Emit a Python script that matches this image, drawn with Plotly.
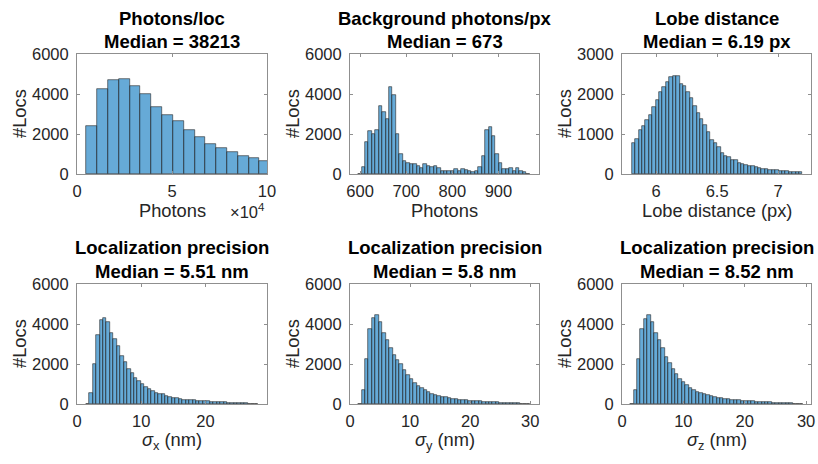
import numpy as np
import plotly.graph_objects as go

# ---- histogram data (bin edges + counts per bin) ----
photon_edges = np.linspace(4940, 101670, 18)
photon_counts = [2400, 4233, 4683, 4750, 4400, 4017, 3367, 2967, 2650, 2217,
                 1850, 1483, 1317, 1100, 917, 783, 650]

bg_edges = np.linspace(595.7, 968.0, 51)
bg_counts = [20, 350, 1600, 2133, 2000, 2200, 3383, 3100, 2733, 4333,
             3950, 2000, 983, 667, 567, 483, 483, 400, 300, 483,
             417, 350, 400, 300, 133, 133, 133, 167, 233, 167,
             250, 217, 167, 83, 167, 333, 900, 2200, 2333, 1900,
             1000, 533, 267, 267, 300, 167, 300, 167, 83, 17]

lobe_edges = np.linspace(5.8, 7.2, 51)
lobe_counts = [783, 885, 1100, 1200, 1340, 1480, 1670, 1850, 2060, 2180,
               2300, 2430, 2460, 2440, 2240, 2210, 2060, 1900, 1690, 1520,
               1370, 1230, 1060, 860, 780, 680, 530, 460, 420, 350,
               340, 280, 260, 220, 210, 195, 175, 150, 130, 125,
               110, 95, 88, 80, 72, 65, 60, 56, 52, 50]

sx_edges = np.linspace(1.36, 28.2, 51)
sx_counts = [15, 550, 2017, 3433, 4183, 4300, 4117, 3567, 3233, 2883,
             2417, 2100, 1767, 1533, 1283, 1150, 983, 833, 733, 650,
             567, 483, 483, 417, 367, 317, 317, 267, 217, 217,
             200, 183, 167, 150, 150, 133, 117, 100, 100, 83,
             83, 67, 67, 50, 50, 33, 33, 25, 17, 17]

sy_edges = np.linspace(1.34, 30.0, 51)
sy_counts = [15, 683, 2267, 3733, 4283, 4433, 4100, 3550, 3183, 2800,
             2433, 2217, 2000, 1717, 1467, 1233, 1067, 917, 800, 683,
             617, 517, 467, 417, 367, 333, 300, 267, 233, 217,
             200, 183, 167, 150, 133, 133, 117, 100, 100, 83,
             83, 67, 67, 50, 50, 33, 33, 25, 17, 17]

sz_edges = np.linspace(1.31, 29.5, 51)
sz_counts = [15, 683, 2267, 3733, 4267, 4433, 4100, 3567, 3183, 2783,
             2367, 2033, 1767, 1517, 1267, 1100, 933, 800, 700, 617,
             550, 500, 450, 400, 350, 317, 283, 267, 233, 217,
             200, 183, 167, 150, 133, 133, 117, 100, 100, 83,
             83, 67, 67, 50, 50, 33, 33, 25, 17, 17]

titles = [("Photons/loc", "Median = 38213"),
          ("Background photons/px", "Median = 673"),
          ("Lobe distance", "Median = 6.19 px"),
          ("Localization precision", "Median = 5.51 nm"),
          ("Localization precision", "Median = 5.8 nm"),
          ("Localization precision", "Median = 8.52 nm")]
xlabels = ["Photons", "Photons", "Lobe distance (px)",
           "<i>σ</i><sub>x</sub> (nm)", "<i>σ</i><sub>y</sub> (nm)",
           "<i>σ</i><sub>z</sub> (nm)"]
ylabel = "#Locs"

xranges = [[0, 100000], [578, 988], [5.72, 7.27], [0, 29.6], [0, 31.45], [0, 30.8]]
yranges = [[0, 6000], [0, 6000], [0, 3000], [0, 6000], [0, 6000], [0, 6000]]
xtickvals = [[0, 50000, 100000], [600, 700, 800, 900], [6, 6.5, 7],
             [0, 10, 20], [0, 10, 20, 30], [0, 10, 20, 30]]
xticktext = [["0", "5", "10"], ["600", "700", "800", "900"], ["6", "6.5", "7"],
             ["0", "10", "20"], ["0", "10", "20", "30"], ["0", "10", "20", "30"]]
ytickvals = [[0, 2000, 4000, 6000]] * 2 + [[0, 1000, 2000, 3000]] + [[0, 2000, 4000, 6000]] * 3

hists = [(photon_edges, photon_counts), (bg_edges, bg_counts), (lobe_edges, lobe_counts),
         (sx_edges, sx_counts), (sy_edges, sy_counts), (sz_edges, sz_counts)]

# ---- layout geometry (pixels) ----
W, H = 818, 464
cols_px = [(77, 267), (350, 539), (622, 811)]
rows_px = [(54, 174), (284, 404)]


def px_x(p):
    return p / W


def px_y(p):
    return 1 - p / H


FONT = "Liberation Sans, Arial, Helvetica, sans-serif"
TXT = "#262626"
FACE = "rgba(0,114,189,0.6)"
EDGE = "#262626"
BOX = "#8f8f8f"

fig = go.Figure()
annotations = []

for i, ((edges, counts), (t1, t2)) in enumerate(zip(hists, titles)):
    r, c = divmod(i, 3)
    x0, x1 = cols_px[c]
    y0, y1 = rows_px[r]
    ax = "" if i == 0 else str(i + 1)
    edges = np.asarray(edges)
    centers = (edges[:-1] + edges[1:]) / 2
    widths = np.diff(edges)
    fig.add_trace(go.Bar(
        x=centers, y=counts, width=widths,
        marker=dict(color=FACE, line=dict(color=EDGE, width=0.6)),
        xaxis="x" + ax, yaxis="y" + ax, showlegend=False, hoverinfo="x+y"))

    common = dict(showline=True, linecolor=BOX, linewidth=1, mirror="ticks",
                  ticks="inside", ticklen=3, tickcolor=BOX, showgrid=False,
                  zeroline=False, automargin=False,
                  tickfont=dict(family=FONT, size=16.5, color=TXT))
    fig.layout["xaxis" + ax] = dict(
        domain=[px_x(x0), px_x(x1)], anchor="y" + ax, range=xranges[i],
        tickmode="array", tickvals=xtickvals[i], ticktext=xticktext[i],
        ticklabelstandoff=2, **common)
    fig.layout["yaxis" + ax] = dict(
        domain=[px_y(y1), px_y(y0)], anchor="x" + ax, range=yranges[i],
        tickmode="array", tickvals=ytickvals[i], ticklabelstandoff=4, **common)

    xc = (x0 + x1) / 2
    annotations += [
        dict(text="<b>%s</b>" % t1, x=px_x(xc), y=px_y(y0 - 36), xref="paper", yref="paper",
             xanchor="center", yanchor="middle", showarrow=False,
             font=dict(family=FONT, size=18.5, color="black")),
        dict(text="<b>%s</b>" % t2, x=px_x(xc), y=px_y(y0 - 13), xref="paper", yref="paper",
             xanchor="center", yanchor="middle", showarrow=False,
             font=dict(family=FONT, size=18.5, color="black")),
        dict(text=xlabels[i], x=px_x(xc), y=px_y(y1 + 37), xref="paper", yref="paper",
             xanchor="center", yanchor="middle", showarrow=False,
             font=dict(family=FONT, size=18.3, color=TXT)),
        dict(text=ylabel, x=px_x(x0 - 58), y=px_y((y0 + y1) / 2), xref="paper", yref="paper",
             xanchor="center", yanchor="middle", textangle=-90, showarrow=False,
             font=dict(family=FONT, size=18.3, color=TXT)),
    ]

# exponent marker for the photon axis
annotations.append(dict(text="×10<sup>4</sup>", x=px_x(267), y=px_y(211),
                        xref="paper", yref="paper", xanchor="right", yanchor="middle",
                        showarrow=False, font=dict(family=FONT, size=16.5, color=TXT)))

fig.update_layout(template="none", width=W, height=H,
                  margin=dict(l=0, r=0, t=0, b=0, pad=0),
                  paper_bgcolor="white", plot_bgcolor="white", bargap=0,
                  annotations=annotations)

fig.write_html("out.html")
